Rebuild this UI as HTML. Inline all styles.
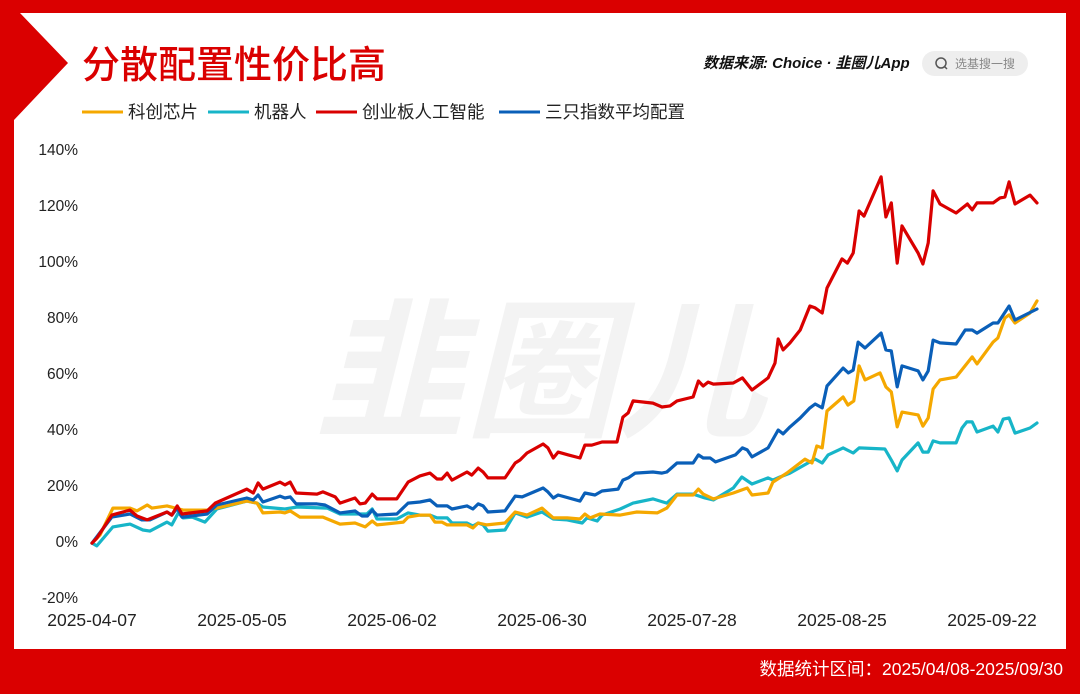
<!DOCTYPE html>
<html><head><meta charset="utf-8">
<style>
body{margin:0;width:1080px;height:694px;overflow:hidden;background:#fff;font-family:"Liberation Sans","Noto Sans CJK SC",sans-serif;}
svg{display:block}
</style></head>
<body>
<svg id="chart" width="1080" height="694" viewBox="0 0 1080 694">
  <polygon fill="#DA0000" points="0,0 1080,0 1080,694 0,694 0,0 14,120 14,649 1066,649 1066,13 20,13 68,63 14,120 0,0"/>
  <text x="540" y="425" text-anchor="middle" font-size="150" font-weight="bold" font-style="italic" fill="#f3f3f3" font-family="'Noto Sans CJK SC',sans-serif">韭圈儿</text>
  <text x="82" y="78" font-size="38" fill="#DA0000" font-family="'Noto Sans CJK SC',sans-serif" font-weight="500">分散配置性价比高</text>
  <text x="703" y="68" font-size="15" font-weight="bold" font-style="italic" fill="#111" font-family="'Liberation Sans','Noto Sans CJK SC',sans-serif">数据来源: Choice · 韭圈儿App</text>
  <g>
    <rect x="922" y="51" width="106" height="25" rx="12.5" fill="#eeeeee"/>
    <circle cx="941" cy="63" r="5" fill="none" stroke="#555" stroke-width="1.5"/>
    <line x1="944.5" y1="66.5" x2="947" y2="69" stroke="#555" stroke-width="1.5"/>
    <text x="955" y="68" font-size="12" fill="#888" font-family="'Noto Sans CJK SC',sans-serif">选基搜一搜</text>
  </g>
  <g id="legend"></g>
  <g id="axes"></g>
  <g id="series"></g>
  <text x="1063" y="675" text-anchor="end" font-size="17.5" fill="#fff" font-family="'Liberation Sans','Noto Sans CJK SC',sans-serif">数据统计区间：2025/04/08-2025/09/30</text>
</svg>
<script>
const seriesNames = ["科创芯片","机器人","创业板人工智能","三只指数平均配置"];
const seriesColors = ["#F5A800","#17B5C8","#D90000","#0A5FB8"];
const yTicks = [-20,0,20,40,60,80,100,120,140];
const xTickDays = [0,28,56,84,112,140,168];
const xTickLabels = ["2025-04-07","2025-05-05","2025-06-02","2025-06-30","2025-07-28","2025-08-25","2025-09-22"];

const chipDays = [0,1.5,3.9,7.1,8.4,10.3,11.2,14.0,17.0,21.5,23.3,28.9,30.8,31.9,35.1,36.0,37.0,38.8,43.1,46.3,49.1,51.0,52.3,53.2,58.1,59.0,61.2,63.1,64.0,65.3,66.3,70.0,71.1,72.1,73.7,77.1,79.0,81.2,84.0,86.1,88.7,91.1,92.0,93.0,94.8,98.6,101.7,105.5,107.3,109.2,112.2,113.2,114.1,116.0,119.7,122.3,123.2,126.2,127.1,129.7,133.1,134.4,135.3,136.3,137.2,140.2,141.1,142.2,143.2,144.3,147.1,148.2,149.2,150.3,151.2,154.2,155.1,156.1,157.0,158.3,161.3,164.3,165.2,168.2,169.1,170.4,171.2,172.3,175.1,176.4];
const chipValues = [-0.4,2.5,12.1,12.1,11.1,13.2,12.1,12.9,11.4,11.4,12.1,14.6,13.9,10.4,10.7,10.4,11.1,8.9,8.9,6.4,6.8,5.4,7.5,6.1,7.1,8.9,9.6,9.6,7.1,7.1,6.1,6.1,5,6.8,6.1,6.8,10.7,9.6,12.1,8.6,8.6,8.2,10,8.6,10,9.6,10.7,10.4,12.1,16.8,16.8,18.9,17.1,15.4,17.5,19.3,16.8,17.5,21.4,24.6,29.6,28.2,34.3,33.6,46.8,51.8,48.9,50.4,62.9,57.9,60.4,55.4,53.6,41.1,46.4,45.4,41.4,44.3,54.6,57.9,58.9,66.1,63.6,71.4,72.9,80,81.1,78.2,81.8,86.1];

const robotDays = [0,0.9,3.9,7.1,9.5,10.8,14.0,14.9,16.1,17.0,18.7,21.1,23.3,28.9,30.8,31.9,36.0,38.3,43.9,46.3,49.1,51.3,52.3,53.2,56.9,59.0,61.2,63.1,64.4,66.3,67.2,70.0,71.1,72.1,73.0,73.9,77.1,79.0,81.2,84.0,86.1,88.7,91.5,92.4,94.3,95.2,98.6,101.0,104.7,107.3,109.2,112.2,114.4,116.0,119.7,121.3,123.2,126.2,127.1,128.4,130.3,134.0,135.0,136.3,137.4,140.2,142.1,143.2,148.0,149.2,150.3,151.2,154.2,155.1,156.1,157.0,158.3,161.3,162.4,163.3,164.3,165.2,168.2,169.1,170.1,171.2,172.3,175.1,176.4];
const robotValues = [-0.4,-1.4,5.4,6.4,4.3,3.9,7.1,6.1,10.4,8.6,8.9,7.1,11.8,14.6,13.9,12.5,11.8,12.5,12.1,10,10,10,11.8,8.2,8.2,10.4,9.6,9.6,8.6,8.6,6.8,6.8,5.7,6.8,6.1,3.9,4.3,10.4,8.9,10.7,8.2,7.9,6.8,8.6,7.5,9.6,11.8,13.9,15.4,13.9,17.1,17.1,15.7,15,19.3,23.2,20.7,22.9,22.1,23.2,24.6,28.6,29.6,28.2,31.1,33.6,31.8,33.6,33.2,29.3,25.4,29.3,35.4,32.1,32.1,36.1,35.4,35.4,40.7,42.9,42.9,39.3,41.4,39.3,43.9,44.3,38.9,40.7,42.5];

const aiDays = [0,0.9,3.7,7.1,8.4,10.3,14.0,14.9,15.9,16.8,21.5,23.0,28.9,30.1,31.0,31.9,35.1,36.0,37.0,38.1,42.0,43.1,45.4,46.3,49.1,50.0,51.0,52.3,53.2,56.9,59.0,61.2,63.1,64.4,65.3,66.3,67.2,70.0,70.9,72.1,73.0,73.9,77.1,79.0,79.9,81.2,84.2,85.1,86.1,87.0,88.9,91.1,92.0,93.3,95.2,98.0,99.1,100.1,101.0,104.7,106.4,107.9,109.2,112.2,113.2,114.1,115.0,116.0,119.7,121.4,123.2,126.2,127.5,128.1,129.0,130.3,132.2,134.0,135.0,136.3,137.2,140.0,141.0,142.1,143.2,144.1,147.3,148.2,149.2,150.3,151.2,154.2,155.1,156.1,157.0,158.3,161.3,163.4,164.3,165.2,168.2,169.5,170.4,171.2,172.3,175.1,176.4];
const aiValues = [-0.4,1.4,9.6,11.4,9.3,7.9,10.7,9.6,12.9,10,11.1,13.9,18.9,17.5,21.1,18.9,21.4,20.4,21.4,17.5,17.1,17.9,16.1,13.9,15.7,13.6,13.9,17.1,15.4,15.4,21.4,23.6,24.6,22.5,22.5,24.6,22.1,25,23.9,26.4,25,22.9,22.9,28.2,29.3,31.8,35,33.6,30,32.1,31.1,30,34.6,34.6,35.7,35.7,44.6,46.1,50.4,49.6,48.2,48.6,50.4,51.8,57.5,55.7,57.1,56.4,56.8,58.6,54.3,58.6,63.9,72.5,68.6,71.1,75.7,84.3,83.6,81.8,90.7,101.1,99.6,103.2,118.2,116.4,130.4,116.1,121.1,99.6,112.9,103.2,99.3,106.8,125.4,120.7,117.5,120.7,118.6,121.1,121.1,122.9,123.2,128.6,120.7,123.9,121.1];

const avgDays = [0,3.7,7.1,9.3,10.8,14.0,14.9,15.9,16.8,21.5,23.3,28.9,30.1,31.0,31.9,35.1,36.0,37.0,38.1,42.0,43.5,46.3,49.1,50.4,51.4,52.3,53.2,56.9,59.0,61.2,63.1,64.4,66.3,67.2,70.0,71.1,72.1,73.0,73.9,77.1,79.0,80.3,84.2,85.1,86.1,87.0,91.1,92.0,93.9,95.2,98.2,99.1,100.1,101.4,104.7,106.4,107.3,109.2,112.2,113.2,114.1,115.4,116.4,120.1,121.4,122.3,123.2,126.2,128.1,129.0,130.3,132.2,134.0,135.0,136.3,137.2,140.2,141.2,142.1,143.0,144.3,147.3,148.2,149.2,150.3,151.2,154.2,155.1,156.1,157.0,158.3,161.3,163.0,164.3,165.2,168.2,169.1,171.2,172.3,176.4];
const avgValues = [-0.4,8.9,10,7.9,7.9,10.7,9.6,12.1,8.9,10,13.2,15.7,15,16.8,14.3,16.4,15.7,16.1,13.6,13.6,13.2,10.4,11.1,9.3,9.3,11.4,9.6,10,13.9,14.3,15,12.9,12.9,11.8,12.9,11.8,13.6,12.9,10.7,11.1,16.4,16.1,19.3,17.9,15.7,16.8,14.6,17.5,16.8,18.2,18.9,22.1,22.9,24.6,25,24.6,25,28.2,28.2,31.1,30,30,28.6,31.1,33.6,32.9,30.4,33.6,40,38.6,41.1,44.3,47.9,49.3,47.9,55.7,62.1,60.4,61.4,71.4,69.3,74.6,68.6,68.2,55.4,62.9,61.1,57.9,61.1,72.1,71.1,70.7,75.7,75.7,74.6,78.2,78.2,84.3,79.3,83.2];

const X0 = 92, PX_PER_DAY = 900/168;
const Y0 = 542, PX_PER_PCT = 392/140;
function xScale(d){ return X0 + d*PX_PER_DAY; }
function yScale(v){ return Y0 - v*PX_PER_PCT; }
const NS = "http://www.w3.org/2000/svg";
function mk(tag, attrs){ const e=document.createElementNS(NS,tag); for(const k in attrs) e.setAttribute(k, attrs[k]); return e; }

const axes = document.getElementById('axes');


yTicks.forEach(function(t){
  const tx = mk('text',{x:78,y:yScale(t)+5,'text-anchor':'end','font-size':15.5,fill:'#222'});
  tx.textContent = t + '%';
  
  
  axes.appendChild(tx);
});
xTickDays.forEach(function(d,i){
  const tx = mk('text',{x:xScale(d),y:626,'text-anchor':'middle','font-size':17.5,fill:'#222'});
  tx.textContent = xTickLabels[i];
  
  
  axes.appendChild(tx);
});

const allDays = [chipDays, robotDays, aiDays, avgDays];
const allValues = [chipValues, robotValues, aiValues, avgValues];
const seriesKeys = ["series-kechuang-chip","series-robot","series-chinext-ai","series-average"];
const sg = document.getElementById('series');


[1,0,3,2].forEach(function(i){
  const pts = allDays[i].map(function(d,j){ return xScale(d).toFixed(1)+','+yScale(allValues[i][j]).toFixed(1); }).join(' ');
  const pl = mk('polyline',{points:pts,fill:'none',stroke:seriesColors[i],'stroke-width':3.2,'stroke-linejoin':'round','stroke-linecap':'round'});
  
  
  sg.appendChild(pl);
});

const lg = document.getElementById('legend');
const legendX = [82,208,316,499];
seriesNames.forEach(function(n,i){
  const g = mk('g',{});
  
  
  g.appendChild(mk('line',{x1:legendX[i],y1:112,x2:legendX[i]+41,y2:112,stroke:seriesColors[i],'stroke-width':3}));
  const t = mk('text',{x:legendX[i]+46,y:118,'font-size':17.5,fill:'#222','font-family':"'Noto Sans CJK SC',sans-serif"});
  t.textContent = n;
  g.appendChild(t);
  lg.appendChild(g);
});
</script>
</body></html>
